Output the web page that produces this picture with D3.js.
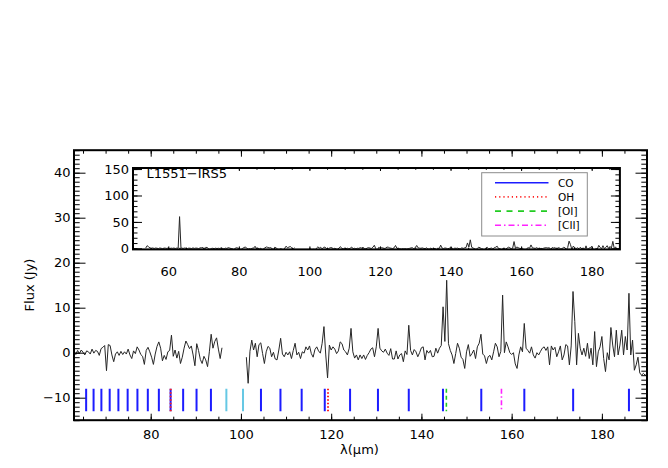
<!DOCTYPE html>
<html><head><meta charset="utf-8">
<script src="https://cdn.jsdelivr.net/npm/d3@7"></script>
<style>
body{margin:0;background:#fff}
text{font-family:"DejaVu Sans",sans-serif;fill:#000}
</style>
</head><body>
<svg id="c" width="668" height="468"></svg>
<script>
// ---------- data ----------
const segStep = 0.4;                    // wavelength step of each spectrum segment (um)
const segStarts = [53.6, 63.0, 101.2];  // start wavelength of each segment
// segment 0: short-wavelength piece (only seen in inset), incl. [OI] 63 um
const fluxSeg0 = [0.5,5.0,3.0,1.0,-0.5,0.8,-0.3,0.6,0.2,-0.4,0.7,0.1,-0.6,0.5,0.3,-0.2,0.8,-0.5,0.4,0.0,0.6,-0.3,0.5,0.2,60.0,0.4];
// segment 1: 63.0 - 95.8 um
const fluxSeg1 = [0.3,-0.4,0.5,-0.2,0.6,0.1,-0.5,0.4,0.2,-0.3,0.8,-0.1,0.5,0.3,-0.6,0.9,
  1.2,1.6,-4.0,1.8,1.6,-0.5,-2.0,-0.3,0.2,-0.6,0.3,-0.4,0.2,-0.3,0.8,-0.5,-1.3,0.4,-0.2,1.3,
  0.6,-0.4,-0.8,-2.6,0.5,1.2,0.2,-1.0,-2.6,-0.3,1.4,2.4,1.0,-1.8,-0.6,-1.5,0.2,0.5,3.9,-0.8,
  0.6,-1.2,0.3,-2.4,-1.0,1.0,2.6,1.8,0.9,1.5,-0.5,-2.9,2.0,0.5,-1.5,-2.4,-0.8,-1.6,-3.1,0.2,
  4.1,1.0,2.5,3.3,0.8,-1.3,1.1];
// segment 2: 101.2 - 190.0 um
const fluxSeg2 = [-1.0,-6.8,0.3,2.8,0.6,2.1,-0.9,1.8,2.2,-0.2,
  -2.4,0.2,1.4,1.0,-0.9,0.1,-1.4,-1.6,0.6,3.2,
  -0.3,-0.9,0.1,-0.5,0.2,-1.3,0.5,2.1,-0.5,0.1,
  -1.3,0.2,-0.1,1.3,0.6,1.5,-0.2,-1.0,0.7,1.3,
  0.4,-0.1,2.1,5.8,-0.5,-5.6,1.7,0.6,1.3,0.8,
  -0.2,0.4,2.4,2.0,0.6,0.2,-0.5,1.0,5.4,0.2,
  -1.2,-0.5,-1.6,-0.5,-1.3,-0.5,-1.5,-0.6,0.0,0.8,
  1.1,-0.9,1.3,5.4,1.0,0.4,0.1,0.8,-0.1,-0.6,
  0.9,-1.4,-1.4,0.4,-1.4,-0.5,-0.2,-2.0,0.4,-0.4,
  6.1,0.5,-0.5,0.7,0.2,-0.9,0.0,1.1,1.3,-1.6,
  0.5,-0.1,0.5,-0.9,-0.8,1.0,-0.1,1.0,1.6,10.2,
  2.5,16.1,2.0,0.5,-0.5,-2.4,-0.2,2.1,1.0,-1.0,
  -1.5,-3.5,0.2,1.8,-0.8,-0.2,0.6,-1.3,1.3,2.1,
  4.1,-0.3,-0.7,-2.4,-0.9,-0.6,-1.6,0.2,2.1,1.3,
  -0.9,0.3,12.8,0.0,2.4,1.3,0.0,-0.4,0.0,-2.5,
  -3.5,-0.5,1.3,0.2,6.5,1.0,0.5,-0.1,1.3,-0.5,
  -1.2,0.0,-0.5,0.3,1.0,1.3,0.5,1.3,-2.7,1.5,
  0.6,1.2,-0.9,0.2,1.5,-1.6,-0.5,1.8,1.5,-2.7,
  1.5,13.6,6.9,-2.7,4.3,1.0,-0.5,1.0,-0.8,2.1,
  -1.3,1.0,-2.7,4.7,-3.1,0.2,1.3,3.6,-1.3,-4.2,
  0.0,-1.6,5.6,1.7,-0.9,5.0,-0.5,1.7,5.0,-0.5,
  3.6,0.6,13.2,-0.5,2.8,-3.9,-2.7,-1.0,-4.5,-5.0,
  -4.6,-5.0,-4.8];

// line identifications (um)
const coLines = [65.69,67.34,69.07,70.91,72.84,74.89,77.06,79.36,81.81,84.41,87.19,90.16,93.35,
                 104.44,108.76,113.46,118.58,124.19,130.37,137.20,144.78,153.27,162.81,173.63,186.00];
const coGapLines = [96.77,100.46];
const ohLines = [84.42,119.30];
const oiLines = [145.53];
const ciiLines = [157.74];
const markerRange = [-8,-13];

const legendLabels = ["CO","OH","[OI]","[CII]"];
const mainXTicks = [80,100,120,140,160,180];
const mainYTicks = [-10,0,10,20,30,40];
const insetXTicks = [60,80,100,120,140,160,180];
const insetYTicks = [0,50,100,150];
const insetLabel = "L1551\u2212IRS5";
const xTitle = "\u03bb(\u03bcm)";
const yTitle = "Flux (Jy)";

// ---------- build ----------
const svg = d3.select("#c");
const segFlux = [fluxSeg0, fluxSeg1, fluxSeg2];
const segments = segFlux.map((f,k)=>f.map((v,i)=>({w:segStarts[k]+i*segStep, f:v})));

const fmt = d => d < 0 ? "\u2212" + Math.abs(d) : String(d);

function frameAxes(g, x, y, o){
  const [x0,x1] = x.range(), [y0,y1] = y.range();
  const majX = o.xTicks, minX = d3.range(Math.ceil(x.domain()[0]/o.xMinor)*o.xMinor, x.domain()[1]+1e-6, o.xMinor);
  const majY = o.yTicks, minY = d3.range(Math.ceil(y.domain()[0]/o.yMinor)*o.yMinor, y.domain()[1]+1e-6, o.yMinor);
  const ax = [
    [d3.axisBottom(x).tickValues(minX).tickSize(-o.xMinLen).tickFormat(""), y0],
    [d3.axisTop(x).tickValues(minX).tickSize(-o.xMinLen).tickFormat(""), y1],
    [d3.axisBottom(x).tickValues(majX).tickSize(-o.xMajLen).tickFormat(""), y1, true],
  ];
  // bottom minor, top minor
  g.append("g").attr("transform",`translate(0,${y0})`).call(d3.axisBottom(x).tickValues(minX).tickSize(-o.xMinLen).tickFormat(""));
  g.append("g").attr("transform",`translate(0,${y1})`).call(d3.axisTop(x).tickValues(minX).tickSize(-o.xMinLen).tickFormat(""));
  g.append("g").attr("transform",`translate(0,${y1})`).call(d3.axisTop(x).tickValues(majX).tickSize(-o.xMajLen).tickFormat(""));
  g.append("g").attr("class","xlab").attr("transform",`translate(0,${y0})`)
    .call(d3.axisBottom(x).tickValues(majX).tickSize(-o.xMajLen).tickPadding(o.xPad).tickFormat(fmt));
  g.append("g").attr("transform",`translate(${x0},0)`).call(d3.axisLeft(y).tickValues(minY).tickSize(-o.yMinLen).tickFormat(""));
  g.append("g").attr("transform",`translate(${x1},0)`).call(d3.axisRight(y).tickValues(minY).tickSize(-o.yMinLen).tickFormat(""));
  g.append("g").attr("transform",`translate(${x1},0)`).call(d3.axisRight(y).tickValues(majY).tickSize(-o.yMajLen).tickFormat(""));
  g.append("g").attr("class","ylab").attr("transform",`translate(${x0},0)`)
    .call(d3.axisLeft(y).tickValues(majY).tickSize(-o.yMajLen).tickPadding(o.yPad).tickFormat(fmt));
  g.selectAll(".domain").remove();
  g.selectAll(".tick line").attr("stroke","#000").attr("stroke-width",1);
  g.selectAll(".tick text").style("font-family","DejaVu Sans").style("font-size","13px").attr("fill","#000");
  g.append("rect").attr("x",x0).attr("y",y1).attr("width",x1-x0).attr("height",y0-y1)
    .attr("fill","none").attr("stroke","#000").attr("stroke-width",2);
}

// ---------- main panel ----------
const mx = d3.scaleLinear().domain([63,190]).range([74,647]);
const my = d3.scaleLinear().domain([-15,45]).range([420.2,150.2]);
const main = svg.append("g");
svg.append("defs").append("clipPath").attr("id","mclip").append("rect")
  .attr("x",74).attr("y",150.2).attr("width",573).attr("height",270);

const mline = d3.line().x(d=>mx(d.w)).y(d=>my(d.f));
const mg = main.append("g").attr("clip-path","url(#mclip)");
segments.slice(1).forEach(s=>{
  mg.append("path").datum(s.filter(d=>d.w>=63 && d.w<=190)).attr("d",mline)
    .attr("fill","none").attr("stroke","#262626").attr("stroke-width",1);
});

function markers(list, color, dash, width){
  mg.selectAll(null).data(list).enter().append("line")
    .attr("x1",d=>mx(d)).attr("x2",d=>mx(d))
    .attr("y1",my(markerRange[0])).attr("y2",my(markerRange[1]))
    .attr("stroke",color).attr("stroke-width",width).attr("stroke-dasharray",dash);
}
markers(coLines,"#1c1cff",null,2);
markers(coGapLines,"#66c8e4",null,2);
markers(ohLines,"#ff2020","1.5,2",2);
markers(oiLines,"#22cc22","4,3",1.6);
markers(ciiLines,"#ff22ff","5,2.5,1.5,2.5",1.6);

frameAxes(main, mx, my, {xTicks:mainXTicks, xMinor:5, yTicks:mainYTicks, yMinor:1,
  xMajLen:6.5, xMinLen:3.5, yMajLen:11.5, yMinLen:5.7, xPad:10, yPad:3.5});

main.append("text").attr("x",359.5).attr("y",454).attr("text-anchor","middle")
  .style("font-size","13px").text(xTitle);
main.append("text").attr("transform","translate(34,285) rotate(-90)").attr("text-anchor","middle")
  .style("font-size","13px").text(yTitle);

// ---------- inset ----------
const ix = d3.scaleLinear().domain([50,188]).range([133.0,619.9]);
const iy = d3.scaleLinear().domain([-2,152]).range([249.4,168.0]);
const inset = svg.append("g");
inset.append("rect").attr("x",133).attr("y",168).attr("width",486.9).attr("height",81.4).attr("fill","#fff");
svg.select("defs").append("clipPath").attr("id","iclip").append("rect")
  .attr("x",133).attr("y",168).attr("width",486.9).attr("height",81.4);
const ig = inset.append("g").attr("clip-path","url(#iclip)");
const iline = d3.line().x(d=>ix(d.w)).y(d=>iy(d.f));
segments.forEach(s=>{
  ig.append("path").datum(s).attr("d",iline)
    .attr("fill","none").attr("stroke","#262626").attr("stroke-width",1);
});
frameAxes(inset, ix, iy, {xTicks:insetXTicks, xMinor:5, yTicks:insetYTicks, yMinor:10,
  xMajLen:3, xMinLen:1.8, yMajLen:9, yMinLen:4.5, xPad:17, yPad:4});
inset.append("text").attr("x",146.5).attr("y",178).style("font-size","13px").text(insetLabel);

// legend
const leg = inset.append("g");
leg.append("rect").attr("x",481.7).attr("y",172.7).attr("width",105.6).attr("height",63.3)
  .attr("fill","#fff").attr("stroke","#8c8c8c").attr("stroke-width",1);
const legStyles = [
  {c:"#1c1cff", d:null, w:1.6},
  {c:"#ff2020", d:"1.2,3", w:1.6},
  {c:"#22cc22", d:"6,5.5", w:1.6},
  {c:"#ff22ff", d:"6,3,1.5,3", w:1.6}];
legendLabels.forEach((lab,i)=>{
  const yy = 182.7 + i*14.2;
  leg.append("line").attr("x1",495).attr("x2",548.5).attr("y1",yy).attr("y2",yy)
    .attr("stroke",legStyles[i].c).attr("stroke-width",legStyles[i].w).attr("stroke-dasharray",legStyles[i].d);
  leg.append("text").attr("x",558).attr("y",yy+3.8).style("font-size","10.5px").text(lab);
});
</script>
</body></html>
